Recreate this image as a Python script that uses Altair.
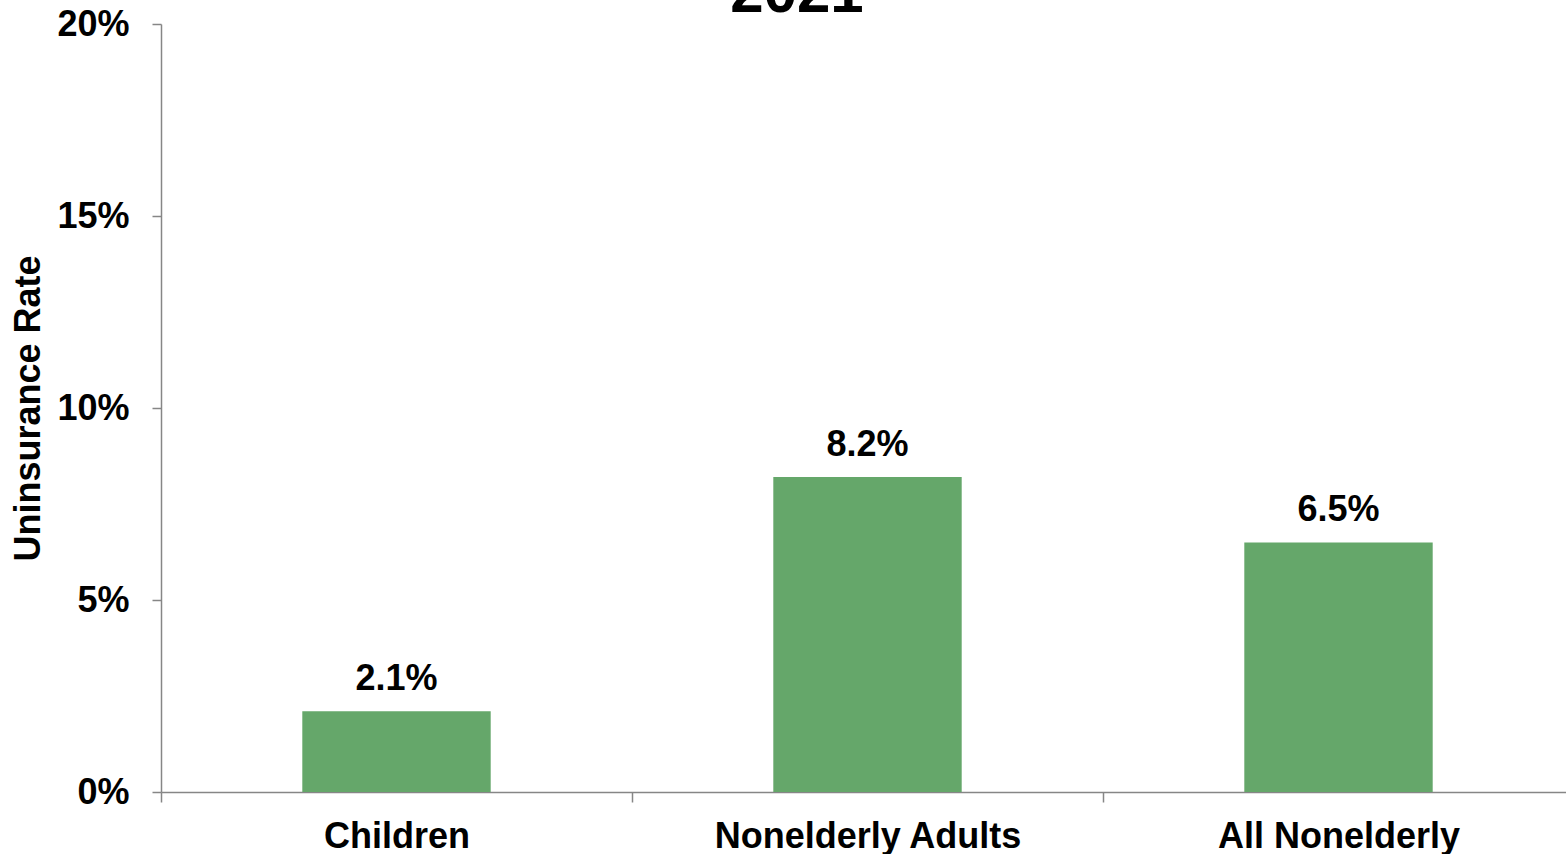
import altair as alt
import pandas as pd

categories = ["Children", "Nonelderly Adults", "All Nonelderly"]
rates = [0.021, 0.082, 0.065]
labels = ["2.1%", "8.2%", "6.5%"]
y_ticks = [0, 0.05, 0.10, 0.15, 0.20]
title_text = ["2021"]

FONT = "Liberation Sans"
AXIS_GRAY = "#868686"
BAR_GREEN = "#65A76A"

df = pd.DataFrame({"category": categories, "rate": rates, "label": labels})
df_title = pd.DataFrame({"t": title_text})

x_enc = alt.X(
    "category:N",
    sort=categories,
    scale=alt.Scale(range=[0, 1413], paddingInner=0, paddingOuter=0),
    axis=alt.Axis(
        title=None, labelAngle=0, labelFont=FONT, labelFontSize=36,
        labelFontWeight="bold", labelColor="black", labelPadding=45,
        labelBaseline="alphabetic", labelLimit=0, tickBand="extent", tickSize=10,
        tickColor=AXIS_GRAY, tickWidth=1.5, domainColor=AXIS_GRAY,
        domainWidth=1.5, grid=False,
    ),
)
y_enc = alt.Y(
    "rate:Q",
    scale=alt.Scale(domain=[0, 0.2], nice=False),
    axis=alt.Axis(
        values=y_ticks, format=".0%", title="Uninsurance Rate",
        titleFont=FONT, titleFontSize=36, titleFontWeight="bold",
        titleColor="black", titleAngle=-90, titleX=-122, titleY=384,
        titleAlign="center", titleBaseline="alphabetic",
        labelFont=FONT, labelFontSize=36, labelFontWeight="bold",
        labelColor="black", labelPadding=23, tickSize=9,
        tickColor=AXIS_GRAY, tickWidth=1.5, domainColor=AXIS_GRAY,
        domainWidth=1.5, grid=False,
    ),
)

bars = alt.Chart(df).mark_bar(color=BAR_GREEN, width=alt.RelativeBandSize(0.4)).encode(
    x=x_enc, y=y_enc
)
texts = alt.Chart(df).mark_text(
    dy=-21, baseline="alphabetic", font=FONT, fontSize=36, fontWeight="bold", color="black"
).encode(x=alt.X("category:N", sort=categories), y="rate:Q", text="label:N")

title = alt.Chart(df_title).mark_text(
    font=FONT, fontSize=60, fontWeight="bold", baseline="alphabetic", align="center", color="black"
).encode(x=alt.value(636), y=alt.value(-12), text="t:N")

chart = (
    alt.layer(bars, texts, title)
    .properties(
        width=1405, height=768,
        background="white",
        autosize=alt.AutoSizeParams(type="none"),
        padding={"left": 161, "top": 24, "right": 0, "bottom": 62},
    )
    .configure_view(stroke=None, strokeWidth=0)
    .configure_axis(grid=False)
)

chart.save("out.html", embed_options={"renderer": "svg", "actions": False})
